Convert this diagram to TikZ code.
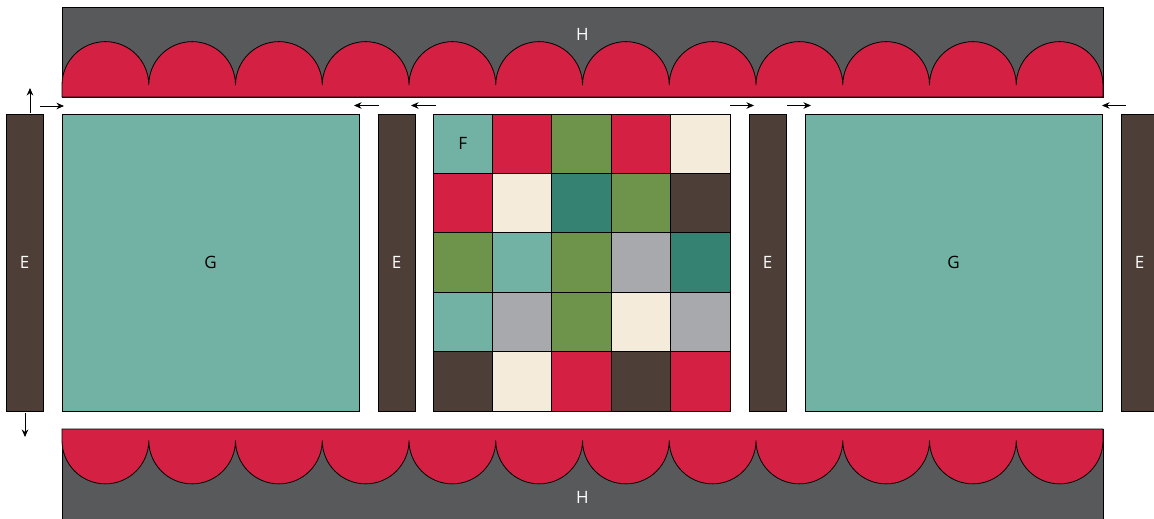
\documentclass[tikz,border=0pt]{standalone}
\usepackage{fontspec}
\setmainfont{Open Sans}
\usetikzlibrary{arrows.meta}
\definecolor{cteal}{HTML}{72B2A4}
\definecolor{cred}{HTML}{D42043}
\definecolor{cgreen}{HTML}{6E944C}
\definecolor{cdteal}{HTML}{358272}
\definecolor{ccream}{HTML}{F4EBDB}
\definecolor{cgray}{HTML}{A8A9AD}
\definecolor{cbrown}{HTML}{4E3E38}
\definecolor{cpanel}{HTML}{58595B}
\tikzset{
  box/.style={draw=black, line width=0.8pt, inner sep=0pt, font=\fontsize{17}{20}\selectfont},
  ebar/.style={box, fill=cbrown, text=white, minimum width=37pt, minimum height=297pt},
  gbox/.style={box, fill=cteal, text=black, minimum width=297pt, minimum height=297pt},
  cell/.style={box, minimum width=59.4pt, minimum height=59.4pt},
  panel/.style={box, fill=cpanel, text=white, minimum width=1041pt, minimum height=90pt},
  scallop/.style={fill=cred, draw=black, line width=0.8pt},
  lbl/.style={font=\fontsize{17}{20}\selectfont},
  arr/.style={-{Stealth[length=7.5pt,width=6.5pt]}, line width=0.8pt, black},
}
\begin{document}
\begin{tikzpicture}[x=1pt,y=-1pt]
\useasboundingbox (0,0) rectangle (1154,519);
% top panel
\node[panel] (ptop) at (582.5,52) {};
\path[scallop] (62,97) -- (62,85)
  \foreach \i in {0,...,11} { arc (180:360:43.375) } -- (1103,97) -- cycle;
\node[lbl, text=white] (htop) at (582.5,34) {H};
% bottom panel
\node[panel] (pbot) at (582.5,474.5) {};
\path[scallop] (62,429) -- (62,440.5)
  \foreach \i in {0,...,11} { arc (180:0:43.375) } -- (1103,429) -- cycle;
\node[lbl, text=white] (hbot) at (582.5,497) {H};
% E bars
\node[ebar] (e1) at (24.5,262.5) {E};
\node[ebar] (e2) at (396.5,262.5) {E};
\node[ebar] (e3) at (767.5,262.5) {E};
\node[ebar] (e4) at (1139.5,262.5) {E};
% G boxes
\node[gbox] (g1) at (210.5,262.5) {G};
\node[gbox] (g2) at (953.5,262.5) {G};
% grid
\foreach \r/\cols in {0/{cteal,cred,cgreen,cred,ccream},
                      1/{cred,ccream,cdteal,cgreen,cbrown},
                      2/{cgreen,cteal,cgreen,cgray,cdteal},
                      3/{cteal,cgray,cgreen,ccream,cgray},
                      4/{cbrown,ccream,cred,cbrown,cred}} {
  \foreach \col [count=\c from 0] in \cols {
    \node[cell, fill=\col] (c\r\c) at ({433+59.4*(\c+0.5)},{114+59.4*(\r+0.5)}) {};
  }
}
\node[lbl] (f) at (c00) {F};
% arrows
\coordinate (a1s) at (30,113); \coordinate (a1e) at (30,88);
\coordinate (a2s) at (40,106); \coordinate (a2e) at (64,106);
\coordinate (a3s) at (379,105.5); \coordinate (a3e) at (354,105.5);
\coordinate (a4s) at (436,105.5); \coordinate (a4e) at (411,105.5);
\coordinate (a5s) at (730,105.5); \coordinate (a5e) at (754,105.5);
\coordinate (a6s) at (787,105.5); \coordinate (a6e) at (811,105.5);
\coordinate (a7s) at (1126,105.5); \coordinate (a7e) at (1102,105.5);
\coordinate (a8s) at (25,413); \coordinate (a8e) at (25,437);
\foreach \k in {1,...,8} { \draw[arr] (a\k s) -- (a\k e); }
\end{tikzpicture}
\end{document}
